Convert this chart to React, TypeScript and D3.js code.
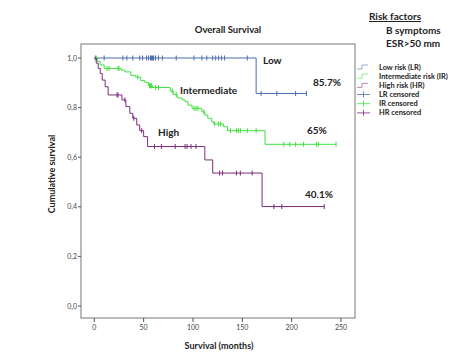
import React from "react";
import * as d3 from "d3";

const xTicks = [0, 50, 100, 150, 200, 250];
const yTicks = [0, 0.2, 0.4, 0.6, 0.8, 1.0];

// steps: [time, survival after event]
const lowSteps: [number, number][] = [[0, 1.0], [164, 0.857]];
const lowEnd = 215;
const lowCensor = [1, 10, 29, 33, 39, 46, 49, 53, 55, 57, 58, 59, 60, 62, 65, 69, 83, 101, 109, 114, 120, 123, 126, 129, 132, 155, 169, 185, 204, 215];

const intSteps: [number, number][] = [
  [0, 1.0], [3, 0.986], [6, 0.972], [10, 0.958], [27, 0.951], [31, 0.944], [37, 0.93], [42, 0.923],
  [47, 0.909], [51, 0.902], [55, 0.888], [59, 0.881], [77, 0.867], [80, 0.853], [84, 0.839], [89, 0.831],
  [92, 0.824], [95, 0.81], [99, 0.797], [109, 0.783], [112, 0.77], [115, 0.757], [119, 0.743], [121, 0.734],
  [131, 0.723], [135, 0.707], [173, 0.652],
];
const intEnd = 245;
const intCensor = [2, 13, 15, 24, 25, 44, 56, 57, 58, 62, 65, 79, 83, 101, 103, 105, 111, 122, 126, 128, 138, 144, 146, 148, 155, 164, 192, 198, 204, 212, 225, 227, 245];

const highSteps: [number, number][] = [
  [0, 1.0], [2, 0.979], [4, 0.958], [6, 0.938], [8, 0.911], [11, 0.884], [14, 0.851], [28, 0.831],
  [32, 0.804], [36, 0.777], [39, 0.757], [43, 0.73], [46, 0.707], [50, 0.683], [54, 0.643],
  [112, 0.589], [120, 0.536], [170, 0.401],
];
const highEnd = 233;
const highCensor = [23, 24, 31, 40, 48, 61, 68, 82, 92, 94, 98, 103, 127, 130, 144, 148, 160, 182, 190, 233];

const seriesNames = ["Low risk (LR)", "Intermediate risk (IR)", "High risk (HR)"];
const censorNames = ["LR censored", "IR censored", "HR censored"];
const colors = ["#4a6db0", "#3fe03f", "#7b2d7b"];

const FONT = "Lato, 'Open Sans', sans-serif";

function survAt(steps: [number, number][], t: number) {
  let s = 1;
  for (const [tt, v] of steps) if (tt <= t) s = v;
  return s;
}

export default function App() {
  const W = 472, H = 361;
  const x = d3.scaleLinear().domain([0, 250]).range([94.3, 341]);
  const y = d3.scaleLinear().domain([0, 1]).range([306, 58]);
  const line = d3.line<[number, number]>().x(d => x(d[0])).y(d => y(d[1])).curve(d3.curveStepAfter);

  const series = [
    { steps: lowSteps, end: lowEnd, censor: lowCensor },
    { steps: intSteps, end: intEnd, censor: intCensor },
    { steps: highSteps, end: highEnd, censor: highCensor },
  ];

  const box = { l: 81, t: 44, r: 355, b: 318 };

  return (
    <svg width={W} height={H} style={{ position: "absolute", left: 0, top: 0, background: "#fff" }}>
      <rect x={0} y={0} width={W} height={H} fill="#fff" />
      <rect x={box.l} y={box.t} width={box.r - box.l} height={box.b - box.t} fill="none" stroke="#777" strokeWidth={1} />
      {yTicks.map(v => (
        <g key={"y" + v}>
          <line x1={box.l - 3} x2={box.l} y1={y(v)} y2={y(v)} stroke="#555" />
          <text x={box.l - 4} y={y(v) + 2.5} fontSize={7} textAnchor="end" fill="#444" fontFamily={FONT}>
            {v.toFixed(1).replace(".", ",")}
          </text>
        </g>
      ))}
      {xTicks.map(v => (
        <g key={"x" + v}>
          <line x1={x(v)} x2={x(v)} y1={box.b} y2={box.b + 4} stroke="#555" />
          <text x={x(v)} y={box.b + 12} fontSize={7} textAnchor="middle" fill="#444" fontFamily={FONT}>{v}</text>
        </g>
      ))}
      {series.map((s, i) => {
        const pts: [number, number][] = [...s.steps, [s.end, s.steps[s.steps.length - 1][1]]];
        return (
          <g key={"s" + i}>
            <path d={line(pts) || ""} fill="none" stroke={colors[i]} strokeWidth={1} />
            {s.censor.map((c, j) => (
              <line key={j} x1={x(c)} x2={x(c)} y1={y(survAt(s.steps, c)) - 2.5} y2={y(survAt(s.steps, c)) + 2.5} stroke={colors[i]} strokeWidth={1} />
            ))}
          </g>
        );
      })}
      <text x={228} y={33} fontSize={9.5} fontWeight="bold" textAnchor="middle" fill="#222" fontFamily={FONT}>Overall Survival</text>
      <text x={263} y={64} fontSize={10} fontWeight="bold" fill="#222" fontFamily={FONT}>Low</text>
      <text x={313} y={86} fontSize={10} fontWeight="bold" fill="#222" fontFamily={FONT}>85.7%</text>
      <text x={180} y={94} fontSize={10} fontWeight="bold" fill="#222" fontFamily={FONT}>Intermediate</text>
      <text x={158} y={136} fontSize={10} fontWeight="bold" fill="#222" fontFamily={FONT}>High</text>
      <text x={307} y={134} fontSize={10} fontWeight="bold" fill="#222" fontFamily={FONT}>65%</text>
      <text x={305} y={198} fontSize={10} fontWeight="bold" fill="#222" fontFamily={FONT}>40.1%</text>
      <text x={369} y={20} fontSize={10} fontWeight="bold" fill="#222" textDecoration="underline" fontFamily={FONT}>Risk factors</text>
      <text x={386} y={34} fontSize={10} fontWeight="bold" fill="#222" fontFamily={FONT}>B symptoms</text>
      <text x={386} y={47} fontSize={10} fontWeight="bold" fill="#222" fontFamily={FONT}>ESR&gt;50 mm</text>
      <text transform={`translate(55,174) rotate(-90)`} fontSize={9} fontWeight="bold" textAnchor="middle" fill="#222" fontFamily={FONT}>Cumulative survival</text>
      <text x={219} y={349} fontSize={9} fontWeight="bold" textAnchor="middle" fill="#222" fontFamily={FONT}>Survival (months)</text>
      {seriesNames.map((n, i) => {
        const yy = 67 + i * 9.2;
        return (
          <g key={"l" + i}>
            <path d={`M357,${yy + 2}H362V${yy - 2}H368`} fill="none" stroke={colors[i]} strokeWidth={0.8} opacity={0.7} />
            <text x={379} y={yy + 2.5} fontSize={7.4} fontWeight="bold" fill="#222" fontFamily={FONT}>{n}</text>
          </g>
        );
      })}
      {censorNames.map((n, i) => {
        const yy = 94.5 + i * 9.2;
        return (
          <g key={"c" + i}>
            <line x1={357} x2={370} y1={yy} y2={yy} stroke={colors[i]} strokeWidth={0.8} />
            <line x1={363.5} x2={363.5} y1={yy - 3} y2={yy + 3} stroke={colors[i]} strokeWidth={0.8} />
            <text x={379} y={yy + 2.5} fontSize={7.4} fontWeight="bold" fill="#222" fontFamily={FONT}>{n}</text>
          </g>
        );
      })}
    </svg>
  );
}
